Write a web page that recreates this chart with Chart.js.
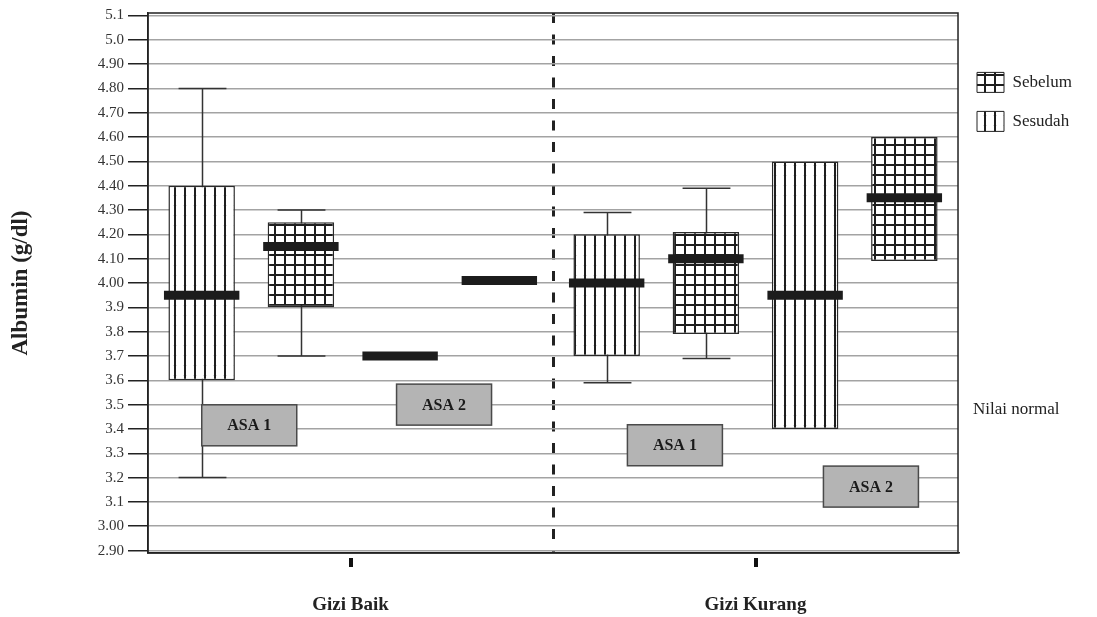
<!DOCTYPE html>
<html>
<head>
<meta charset="utf-8">
<script src="https://cdn.jsdelivr.net/npm/chart.js@4.4.1/dist/chart.umd.min.js"></script>
<style>
html,body{margin:0;background:#fff}
#wrap{width:1097px;height:617px}
</style>
</head>
<body>
<div id="wrap"><canvas id="chart"></canvas></div>
<script>
// groups on the x axis, four boxes per group
const groups=['Gizi Baik','Gizi Kurang'];
const series=['ASA 1 Sesudah','ASA 1 Sebelum','ASA 2 Sesudah','ASA 2 Sebelum'];
// per series: [Gizi Baik, Gizi Kurang]
const q1=[[3.60,3.70],[3.90,3.79],[null,3.40],[null,4.09]];
const q3=[[4.40,4.20],[4.25,4.21],[null,4.50],[null,4.60]];
const median=[[3.95,4.00],[4.15,4.10],[3.70,3.95],[4.01,4.35]];
const whiskerLow=[[3.20,3.59],[3.70,3.69],[null,null],[null,null]];
const whiskerHigh=[[4.80,4.29],[4.30,4.39],[null,null],[null,null]];

const yTicks=[2.9,3.0,3.1,3.2,3.3,3.4,3.5,3.6,3.7,3.8,3.9,4.0,4.1,4.2,4.3,4.4,4.5,4.6,4.7,4.8,4.9,5.0,5.1];
const yTickLabels=['2.90','3.00','3.1','3.2','3.3','3.4','3.5','3.6','3.7','3.8','3.9','4.00','4.10','4.20','4.30','4.40','4.50','4.60','4.70','4.80','4.90','5.0','5.1'];
const legendNames=['Sebelum','Sesudah'];
const normalLabel='Nilai normal';
const normalValue=3.48;

const SERIF='Liberation Serif';
const canvas=document.getElementById('chart');
const cctx=canvas.getContext('2d');

function makePattern(kind){
  const c=document.createElement('canvas');
  c.width=10; c.height=10;
  const g=c.getContext('2d');
  g.fillStyle='#fff'; g.fillRect(0,0,10,10);
  g.fillStyle='#1e1e1e';
  g.fillRect(4,0,2,10);
  if(kind==='Sebelum') g.fillRect(0,4,10,2);
  else { g.fillStyle='#dcdcdc'; g.fillRect(3,5,1,1); g.fillRect(6,5,1,1); }
  return cctx.createPattern(c,'repeat');
}
const patterns={Sebelum:makePattern('Sebelum'),Sesudah:makePattern('Sesudah')};
const kindOf=name=>name.split(' ').pop();

const datasets=[];
series.forEach((name,k)=>{
  datasets.push({
    label:name+' median',
    data:median[k].map(m=>m==null?null:[m-0.0185,m+0.0185]),
    backgroundColor:'#1c1c1c', borderWidth:0,
    stack:'s'+k, order:0, barPercentage:0.76, categoryPercentage:0.98
  });
});
series.forEach((name,k)=>{
  datasets.push({
    label:name,
    data:q1[k].map((v,i)=>v==null?null:[v,q3[k][i]]),
    backgroundColor:patterns[kindOf(name)],
    borderColor:'#2a2a2a', borderWidth:1.5, borderSkipped:false,
    stack:'s'+k, order:1, barPercentage:0.67, categoryPercentage:0.98
  });
});

const asaNotes=[
  {text:'ASA 1',x:-0.25,y:3.415},
  {text:'ASA 2',x:0.231,y:3.50},
  {text:'ASA 1',x:0.801,y:3.333},
  {text:'ASA 2',x:1.285,y:3.163}
];

const whiskers={
  id:'whiskers',
  beforeDatasetsDraw(chart){
    const {ctx,scales:{y}}=chart;
    ctx.save();
    ctx.strokeStyle='#333'; ctx.lineWidth=1.5;
    series.forEach((name,k)=>{
      const meta=chart.getDatasetMeta(series.length+k);
      meta.data.forEach((bar,i)=>{
        const lo=whiskerLow[k][i], hi=whiskerHigh[k][i];
        if(lo==null||hi==null) return;
        const x=Math.round(bar.x)+0.5, cap=bar.width*0.36;
        const yl=y.getPixelForValue(lo), yh=y.getPixelForValue(hi);
        ctx.beginPath();
        ctx.moveTo(x,yl); ctx.lineTo(x,yh);
        ctx.moveTo(x-cap,yl); ctx.lineTo(x+cap,yl);
        ctx.moveTo(x-cap,yh); ctx.lineTo(x+cap,yh);
        ctx.stroke();
      });
    });
    ctx.restore();
  }
};

const extras={
  id:'extras',
  afterDatasetsDraw(chart){
    const {ctx,scales:{x,y}}=chart;
    ctx.save();
    asaNotes.forEach(n=>{
      const cx=x.getPixelForValue(n.x), cy=y.getPixelForValue(n.y);
      const w=95,h=41;
      ctx.fillStyle='#b4b4b4';
      ctx.fillRect(cx-w/2,cy-h/2,w,h);
      ctx.strokeStyle='#4a4a4a'; ctx.lineWidth=1.5;
      ctx.strokeRect(cx-w/2,cy-h/2,w,h);
      ctx.fillStyle='#1a1a1a';
      ctx.font='bold 16px "'+SERIF+'"';
      ctx.textAlign='center'; ctx.textBaseline='middle';
      ctx.fillText(n.text,cx,cy+1);
    });
    ctx.restore();
  },
  afterDraw(chart){
    const {ctx,chartArea:a,scales:{x,y}}=chart;
    ctx.save();
    ctx.strokeStyle='#222'; ctx.lineWidth=1.5;
    ctx.strokeRect(a.left,a.top,a.right-a.left,a.bottom-a.top);
    ctx.fillStyle='#111';
    groups.forEach((g,i)=>{
      const px=Math.round(x.getPixelForValue(i));
      ctx.fillRect(px-2,a.bottom+5,4,9);
    });
    ctx.fillStyle='#222';
    ctx.font='17px "'+SERIF+'"';
    ctx.textAlign='left'; ctx.textBaseline='middle';
    ctx.fillText(normalLabel,a.right+15,y.getPixelForValue(normalValue));
    ctx.restore();
  }
};

new Chart(cctx,{
  type:'bar',
  data:{labels:groups,datasets},
  options:{
    responsive:true, maintainAspectRatio:false, animation:false,
    layout:{padding:{top:5,right:15,left:0,bottom:0}},
    plugins:{
      tooltip:{enabled:false},
      legend:{
        position:'right', align:'start',
        title:{display:true,text:' ',font:{size:12},padding:{top:0,bottom:34}},
        labels:{
          boxWidth:27, boxHeight:20, padding:19, color:'#222',
          font:{family:SERIF,size:17},
          generateLabels:()=>legendNames.map(n=>({text:n,fillStyle:patterns[n],strokeStyle:'#222',fontColor:'#222',lineWidth:1,hidden:false}))
        }
      }
    },
    scales:{
      x:{
        afterFit:s=>{s.height=64;},
        grid:{offset:true,drawTicks:false,lineWidth:3,color:c=>c.index===1?'#222':'rgba(0,0,0,0)'},
        border:{display:true,color:'#222',width:1.5,dash:[10,11.5]},
        ticks:{padding:41,color:'#222',font:{family:SERIF,size:19,weight:'bold'}}
      },
      y:{
        min:2.89, max:5.11, stacked:false,
        afterBuildTicks:s=>{s.ticks=yTicks.map(v=>({value:v}));},
        afterFit:s=>{s.width=148;},
        ticks:{autoSkip:false,padding:4,color:'#333',font:{family:SERIF,size:15},callback:(v,i)=>yTickLabels[i]},
        grid:{color:'#a3a3a3',lineWidth:1.5,tickColor:'#222',tickLength:20,tickWidth:1.5},
        border:{display:true,color:'#222',width:1.5},
        title:{display:true,text:'Albumin (g/dl)',color:'#222',font:{family:SERIF,size:23,weight:'bold'},padding:{top:7,bottom:0}}
      }
    }
  },
  plugins:[whiskers,extras]
});
</script>
</body>
</html>
